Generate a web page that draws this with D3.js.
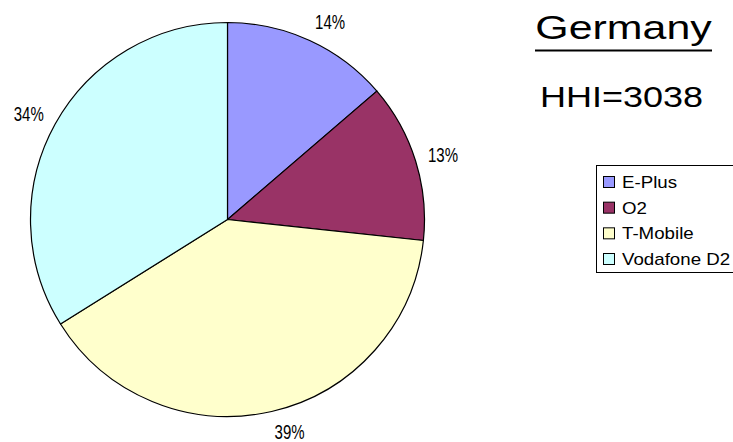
<!DOCTYPE html>
<html lang="en">
<head>
<meta charset="UTF-8">
<title>Germany market share</title>
<script src="https://cdnjs.cloudflare.com/ajax/libs/d3/7.8.5/d3.min.js"></script>
<style>
    body { margin: 0; background: #fff; }
    text { font-family: "Liberation Sans", Arial, sans-serif; fill: #000; }
    .slice { stroke: #000; stroke-width: 1.2px; }
    .pct { font-size: 20px; }
    .title { font-size: 33px; }
    .subtitle { font-size: 30px; }
    .legend-box { fill: #fff; stroke: #000; stroke-width: 1px; }
    .legend-swatch { stroke: #000; stroke-width: 1px; }
    .legend-label { font-size: 17px; }
</style>
</head>
<body>
<div class="chart"></div>
<script>
var operators = ["E-Plus", "O2", "T-Mobile", "Vodafone D2"];
var shares = [13.7, 13.0, 39.4, 33.9];
var colors = ["#9999ff", "#993366", "#ffffcc", "#ccffff"];
var title = "Germany";
var subtitle = "HHI=3038";

var width = 733, height = 442;
var cx = 227.5, cy = 219.5, radius = 197;

var svg = d3.select(".chart").append("svg")
    .attr("width", width)
    .attr("height", height);

// stretch text horizontally (the original chart renders glyphs wider/narrower)
function stretch(sel, k) {
    sel.each(function() {
        var w = this.getComputedTextLength();
        d3.select(this)
            .attr("textLength", w * k)
            .attr("lengthAdjust", "spacingAndGlyphs");
    });
}

var data = operators.map(function(name, i) {
    return { name: name, value: shares[i], color: colors[i] };
});

var pie = d3.pie()
    .sort(null)
    .value(function(d) { return d.value; });

var arc = d3.arc().innerRadius(0).outerRadius(radius);
var labelArc = d3.arc().innerRadius(210).outerRadius(210);

var g = svg.append("g").attr("transform", "translate(" + cx + "," + cy + ")");

g.selectAll(".slice")
    .data(pie(data))
    .enter()
    .append("path")
    .attr("class", "slice")
    .attr("d", arc)
    .attr("fill", function(d) { return d.data.color; });

function midAngle(d) { return (d.startAngle + d.endAngle) / 2; }

// labels hang off the rim like excel: left/right aligned, shifted up/down by half height
g.selectAll(".pct")
    .data(pie(data))
    .enter()
    .append("text")
    .attr("class", "pct")
    .attr("x", function(d) { return labelArc.centroid(d)[0]; })
    .attr("y", function(d) { return labelArc.centroid(d)[1] - Math.cos(midAngle(d)) * 7.5; })
    .attr("text-anchor", function(d) { return Math.sin(midAngle(d)) > 0 ? "start" : "end"; })
    .attr("dy", "0.36em")
    .text(function(d) { return Math.round(d.data.value) + "%"; })
    .call(stretch, 0.75);

// title
svg.append("text")
    .attr("class", "title")
    .attr("x", 623.5)
    .attr("y", 39)
    .attr("text-anchor", "middle")
    .text(title)
    .call(stretch, 1.3);

svg.append("line")
    .attr("x1", 535).attr("x2", 712)
    .attr("y1", 50.5).attr("y2", 50.5)
    .attr("stroke", "#000")
    .attr("stroke-width", 2.2);

svg.append("text")
    .attr("class", "subtitle")
    .attr("x", 621.5)
    .attr("y", 107)
    .attr("text-anchor", "middle")
    .text(subtitle)
    .call(stretch, 1.2);

// legend
var ly = d3.scalePoint()
    .domain(operators)
    .range([182, 259]);

var legend = svg.append("g").attr("class", "legend");

legend.append("rect")
    .attr("class", "legend-box")
    .attr("x", 596.5)
    .attr("y", 165.5)
    .attr("width", 160)
    .attr("height", 107);

var rows = legend.selectAll(".legend-row")
    .data(data)
    .enter()
    .append("g")
    .attr("class", "legend-row")
    .attr("transform", function(d) { return "translate(0," + ly(d.name) + ")"; });

rows.append("rect")
    .attr("class", "legend-swatch")
    .attr("x", 603.5)
    .attr("y", -5.5)
    .attr("width", 11)
    .attr("height", 11)
    .attr("fill", function(d) { return d.color; });

rows.append("text")
    .attr("class", "legend-label")
    .attr("x", 622)
    .attr("y", 6)
    .text(function(d) { return d.name; })
    .call(stretch, 1.1);
</script>
</body>
</html>
